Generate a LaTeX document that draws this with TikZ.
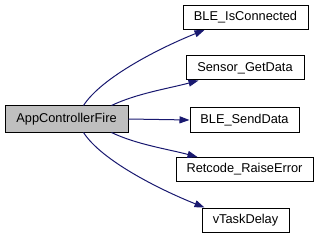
\documentclass[tikz,border=0pt]{standalone}
\usepackage{fontspec}
\setmainfont{Liberation Sans}
\usetikzlibrary{arrows.meta}
\definecolor{edgeblue}{HTML}{191970}
\definecolor{rootgray}{HTML}{BFBFBF}
\begin{document}
\begin{tikzpicture}[x=1pt,y=-1pt,
  fnbox/.style={draw=black, line width=1pt, fill=white, minimum height=24pt,
    inner sep=0pt, font=\fontsize{12.8}{14}\selectfont},
  rootbox/.style={fnbox, fill=rootgray},
  call/.style={draw=edgeblue, line width=1pt,
    -{Triangle[length=10pt,width=7pt,fill=edgeblue]}}]
\useasboundingbox (0,0) rectangle (320,240);
\node[rootbox, minimum width=123pt, minimum height=26pt] (app) at (66.5,119) {AppControllerFire};
\node[fnbox, minimum width=125pt] (ble1) at (245.5,17.5) {BLE\_IsConnected};
\node[fnbox, minimum width=118pt] (sensor) at (245,68) {Sensor\_GetData};
\node[fnbox, minimum width=109pt] (send) at (244.5,120) {BLE\_SendData};
\node[fnbox, minimum width=137pt] (retcode) at (244.5,169.5) {Retcode\_RaiseError};
\node[fnbox, minimum width=87pt] (vtask) at (245.5,220) {vTaskDelay};
% calls out of AppControllerFire
\draw[call] ([xshift=79pt]app.north west) .. controls +(18,-28) and +(-45,18) .. ([xshift=22pt]ble1.south west);
\draw[call] ([xshift=107pt]app.north west) .. controls +(25,-12) and +(-30,8) .. ([xshift=13pt]sensor.south west);
\draw[call] (app.east) -- (send.west);
\draw[call] ([xshift=107pt]app.south west) .. controls +(25,12) and +(-30,-8) .. ([xshift=22pt]retcode.north west);
\draw[call] ([xshift=79pt]app.south west) .. controls +(18,28) and +(-45,-18) .. ([xshift=3pt]vtask.north west);
\end{tikzpicture}
\end{document}
